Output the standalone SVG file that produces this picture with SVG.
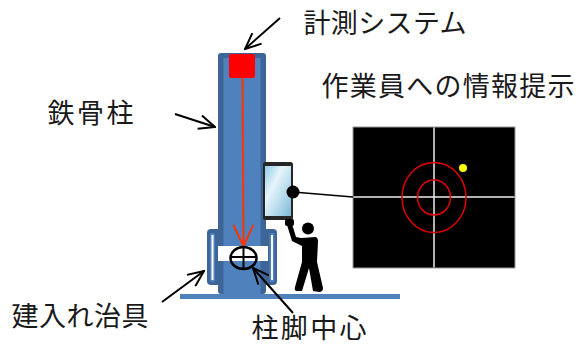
<svg xmlns="http://www.w3.org/2000/svg" width="576" height="345" viewBox="0 0 576 345">
  <style>
    .lbl { font-family: "Noto Sans CJK JP", "Noto Sans", sans-serif; font-size: 27px; fill: #1a1a1a; }
    .conn { stroke: #000; stroke-width: 2; fill: none; marker-end: url(#openArrow); }
    .steelDark { fill: #3d6597; }
    .steel { fill: #4f81bd; }
  </style>
  <defs>
    <marker id="openArrow" markerUnits="userSpaceOnUse" viewBox="-1 -1 18 16" refX="16" refY="7" markerWidth="18" markerHeight="16" orient="auto">
      <path d="M0,0 L16,7 L0,14" fill="none" stroke="#000" stroke-width="2"/>
    </marker>
    <marker id="redArrow" markerUnits="userSpaceOnUse" viewBox="-1 -1 24 24" refX="21" refY="11" markerWidth="24" markerHeight="24" orient="auto">
      <path d="M0,1 L21,11 L0,21" fill="none" stroke="#ff3300" stroke-width="2"/>
    </marker>
    <linearGradient id="screen" x1="0" y1="0" x2="1" y2="1">
      <stop offset="0" stop-color="#8ecbe6"/>
      <stop offset="0.35" stop-color="#e6f4fa"/>
      <stop offset="0.6" stop-color="#bfe0ee"/>
      <stop offset="1" stop-color="#7dbad8"/>
    </linearGradient>
    <filter id="soft" x="-20%" y="-20%" width="140%" height="140%">
      <feGaussianBlur stdDeviation="0.6"/>
    </filter>
  </defs>

  <!-- base plate -->
  <g id="base-plate">
    <rect x="180" y="294" width="220" height="5" class="steel"/>
  </g>

  <!-- erection jig around the column foot -->
  <g id="jig">
    <rect x="207" y="229" width="70" height="56" rx="4" class="steelDark"/>
    <rect x="210" y="233" width="5" height="49" rx="2" fill="#4f81bd"/>
    <rect x="211.5" y="235" width="2" height="45" fill="#fff"/>
    <rect x="269.5" y="233" width="5" height="49" rx="2" fill="#4f81bd"/>
    <rect x="271" y="235" width="2" height="45" fill="#fff"/>
  </g>

  <!-- steel column -->
  <g id="column">
    <rect x="218" y="53" width="48" height="241" rx="3" class="steelDark"/>
    <rect x="223.5" y="58" width="37" height="236" class="steel"/>
    <rect x="218" y="246" width="50" height="15" fill="#fff"/>
  </g>

  <!-- measurement system on the column top -->
  <g id="sensor">
    <rect x="229" y="54" width="26" height="24" rx="2" fill="#ff0000"/>
    <line x1="242.5" y1="78" x2="243.5" y2="246" stroke="#ff3300" stroke-width="2" marker-end="url(#redArrow)"/>
  </g>

  <!-- column foot centre mark -->
  <g id="foot-centre">
    <ellipse cx="243.5" cy="258" rx="13" ry="11" fill="none" stroke="#000" stroke-width="2.5"/>
    <line x1="230.5" y1="257" x2="256.5" y2="257" stroke="#000" stroke-width="2"/>
    <line x1="243.5" y1="247" x2="243.5" y2="269" stroke="#000" stroke-width="2"/>
  </g>

  <!-- handheld device -->
  <g id="phone">
    <rect x="263" y="162" width="30" height="58" rx="2.5" fill="#262626"/>
    <rect x="265" y="166" width="26" height="50" fill="url(#screen)"/>
  </g>

  <!-- worker -->
  <g id="worker" fill="#000" filter="url(#soft)">
    <circle cx="308" cy="228.5" r="6"/>
    <path d="M301,238 L316,237 Q318,238 318,241 L317,262 L323,288 Q323,292 319,292 L313,291 L309,268 L302,291 L296,291 Q294,290 295,287 L302,262 L302,246 L292,241 L287,225 L292,224 L296,237 Z"/>
    <rect x="285" y="219" width="9" height="7" rx="2"/>
  </g>

  <!-- information shown to the worker -->
  <g id="display">
    <rect x="353" y="127" width="162" height="141" fill="#000" stroke="#9a9a9a" stroke-width="1"/>
    <line x1="434" y1="127.5" x2="434" y2="267.5" stroke="#eeeeee" stroke-width="1.5"/>
    <line x1="353.5" y1="197" x2="514.5" y2="197" stroke="#eeeeee" stroke-width="1.5"/>
    <ellipse cx="434" cy="197.5" rx="32" ry="35" fill="none" stroke="#e00000" stroke-width="1.5"/>
    <ellipse cx="434" cy="197.5" rx="16.5" ry="17.5" fill="none" stroke="#e00000" stroke-width="1.5"/>
    <circle cx="463" cy="168" r="4" fill="#ffff00"/>
  </g>

  <!-- connectors -->
  <g id="connectors">
    <line x1="280" y1="18" x2="245" y2="49" class="conn"/>
    <line x1="175" y1="114" x2="215" y2="127" class="conn"/>
    <line x1="162" y1="302" x2="204" y2="271" class="conn"/>
    <line x1="293" y1="313" x2="253" y2="268" class="conn"/>
    <line x1="293" y1="192" x2="353" y2="197" stroke="#000" stroke-width="1.5"/>
    <circle cx="293" cy="192" r="6.5" fill="#000"/>
  </g>

  <!-- labels -->
  <g id="labels">
    <text class="lbl" x="303.5" y="33" textLength="163" lengthAdjust="spacing">計測システム</text>
    <text class="lbl" x="321.5" y="96" textLength="253" lengthAdjust="spacing">作業員への情報提示</text>
    <text class="lbl" x="47.5" y="123" textLength="86" lengthAdjust="spacing">鉄骨柱</text>
    <text class="lbl" x="11.5" y="326" textLength="137" lengthAdjust="spacing">建入れ治具</text>
    <text class="lbl" x="251.5" y="338" font-size="26" textLength="115" lengthAdjust="spacing">柱脚中心</text>
  </g>
</svg>
